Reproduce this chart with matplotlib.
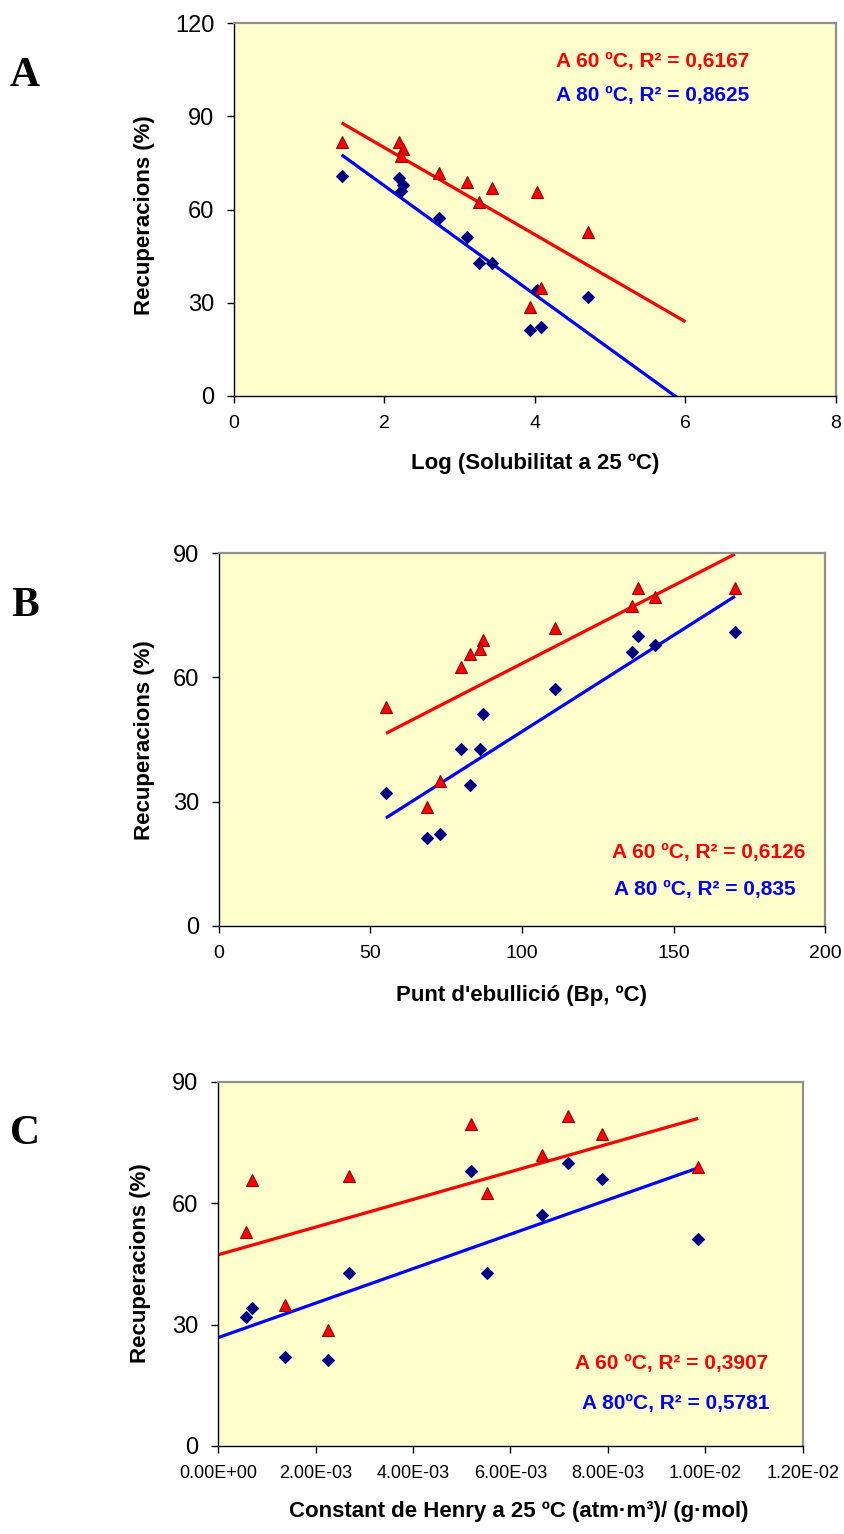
import numpy as np
import matplotlib
matplotlib.use("Agg")
import matplotlib.pyplot as plt
from matplotlib.ticker import FuncFormatter

# ---- data (12 compounds) ----
rec_60 = [81.6, 81.6, 79.5, 77.2, 71.9, 68.9, 66.8, 62.5, 65.7, 52.9, 34.9, 28.7]
rec_80 = [70.9, 70.0, 67.9, 66.1, 57.2, 51.1, 42.7, 42.7, 34.1, 32.0, 22.1, 21.2]
log_sol = [1.43, 2.19, 2.24, 2.22, 2.72, 3.10, 3.43, 3.25, 4.03, 4.70, 4.08, 3.93]
bp = [170.3, 138.2, 143.9, 136.2, 110.9, 87.2, 86.1, 79.8, 82.8, 55.1, 72.9, 68.8]
henry = [np.nan, 7.17e-3, 5.18e-3, 7.87e-3, 6.65e-3, 9.85e-3, 2.69e-3, 5.52e-3,
         7.04e-4, 5.74e-4, 1.37e-3, 2.26e-3]

r2_A = ["0,6167", "0,8625"]
r2_B = ["0,6126", "0,835"]
r2_C = ["0,3907", "0,5781"]

W, H = 845, 1534
fig = plt.figure(figsize=(W / 100, H / 100), dpi=100)

SANS = ['Liberation Sans', 'DejaVu Sans']
SERIF = ['Liberation Serif', 'DejaVu Serif']
plt.rcParams['font.family'] = SANS

BG = '#FFFFCC'
RED = '#FF0000'
BLUE = '#0000FF'
NAVY = '#000080'


def fx(x):
    return x / W


def fy(y):
    return 1 - y / H


def make_ax(l, t, r, b):
    ax = fig.add_axes([fx(l), fy(b), fx(r) - fx(l), fy(t) - fy(b)])
    ax.set_facecolor(BG)
    for s in ['left', 'bottom']:
        ax.spines[s].set_color('black')
        ax.spines[s].set_linewidth(1.0)
    for s in ['top', 'right']:
        ax.spines[s].set_color('#909090')
        ax.spines[s].set_linewidth(1.6)
    ax.tick_params(axis='y', direction='out', length=5, width=1, labelsize=17, pad=9)
    ax.tick_params(axis='x', direction='out', length=5, width=1, labelsize=14, pad=9)
    return ax


def plot_panel(ax, x, y60, y80, x_start=None, x_end=None):
    x = np.asarray(x, float)
    y60 = np.asarray(y60, float)
    y80 = np.asarray(y80, float)
    m = ~np.isnan(x)
    xs, a60, a80 = x[m], y60[m], y80[m]
    x0 = xs.min() if x_start is None else x_start
    x1 = xs.max() if x_end is None else x_end
    xx = np.array([x0, x1])
    for yy, col in [(a60, RED), (a80, BLUE)]:
        k, c = np.polyfit(xs, yy, 1)
        ax.plot(xx, k * xx + c, color=col, lw=2.3, zorder=2, solid_capstyle='butt')
    ax.plot(xs, a80, linestyle='none', marker='D', ms=6.5, mfc=NAVY, mec=NAVY,
            mew=0.8, zorder=3, clip_on=False)
    ax.plot(xs, a60, linestyle='none', marker='^', ms=9, mfc=RED, mec='#990000',
            mew=0.8, zorder=4, clip_on=False)


# ---- Panel A ----
axA = make_ax(234, 23, 836, 396)
plot_panel(axA, log_sol, rec_60, rec_80, x_end=6.0)
axA.set_xlim(0, 8)
axA.set_ylim(0, 120)
axA.set_xticks([0, 2, 4, 6, 8])
axA.set_yticks([0, 30, 60, 90, 120])

# ---- Panel B ----
axB = make_ax(219, 553, 825, 926)
plot_panel(axB, bp, rec_60, rec_80)
axB.set_xlim(0, 200)
axB.set_ylim(0, 90)
axB.set_xticks([0, 50, 100, 150, 200])
axB.set_yticks([0, 30, 60, 90])

# ---- Panel C ----
axC = make_ax(218, 1082, 803, 1446)
plot_panel(axC, henry, rec_60, rec_80, x_start=0.0)
axC.set_xlim(0, 0.012)
axC.set_ylim(0, 90)
axC.set_xticks(np.arange(0, 0.0121, 0.002))
axC.set_yticks([0, 30, 60, 90])
axC.xaxis.set_major_formatter(FuncFormatter(lambda v, p: "%.2E" % v))
axC.tick_params(axis='x', labelsize=13)

# ---- texts ----
def T(x, y, s, **kw):
    fig.text(fx(x), fy(y), s, **kw)

lab_kw = dict(fontsize=16, fontweight='bold', family=SANS)
T(535, 463, "Log (Solubilitat a 25 ºC)", ha='center', va='center', **lab_kw)
T(522, 995, "Punt d'ebullició (Bp, ºC)", ha='center', va='center', **lab_kw)
T(519, 1512, "Constant de Henry a 25 ºC (atm·m³)/ (g·mol)", ha='center', va='center', **lab_kw)
T(145, 215, "Recuperacions (%)", ha='center', va='center', rotation=90, **lab_kw)
T(145, 740, "Recuperacions (%)", ha='center', va='center', rotation=90, **lab_kw)
T(141, 1263, "Recuperacions (%)", ha='center', va='center', rotation=90, **lab_kw)

r_kw = dict(fontsize=15, fontweight='bold', family=SANS, ha='left', va='center')
T(556, 62, "A 60 ºC, R² = " + r2_A[0], color=RED, **r_kw)
T(556, 96, "A 80 ºC, R² = " + r2_A[1], color=BLUE, **r_kw)
T(612, 852, "A 60 ºC, R² = " + r2_B[0], color=RED, **r_kw)
T(614, 889, "A 80 ºC, R² = " + r2_B[1], color=BLUE, **r_kw)
T(575, 1364, "A 60 ºC, R² = " + r2_C[0], color=RED, **r_kw)
T(582, 1404, "A 80ºC, R² = " + r2_C[1], color=BLUE, **r_kw)

p_kw = dict(fontsize=30, fontweight='bold', family=SERIF, ha='center', va='center')
T(25, 76, "A", **p_kw)
T(25, 606, "B", **p_kw)
T(25, 1134, "C", **p_kw)

fig.savefig("out.png", dpi=100)
